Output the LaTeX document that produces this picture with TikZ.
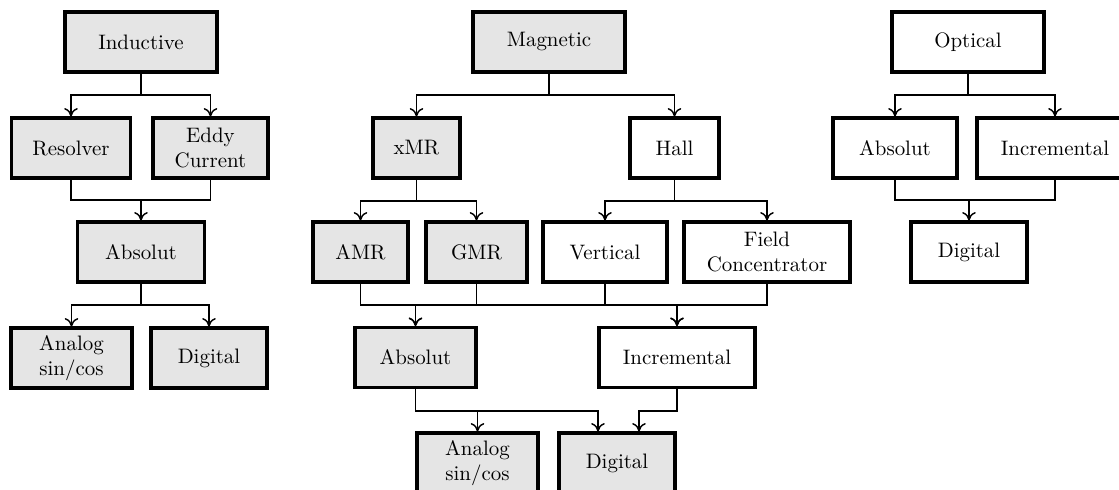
\documentclass[tikz,border=0pt]{standalone}
\usetikzlibrary{arrows.meta,calc}
\newcommand\pxu{0.478pt}
\tikzset{
  box/.style={draw, line width=1.5pt, align=center, inner sep=0pt, minimum height=60*\pxu},
  gbox/.style={box, fill=black!10},
  wbox/.style={box, fill=white},
  bw/.style={minimum width=#1*\pxu},
  conn/.style={line width=0.7pt},
  arr/.style={conn, -{To[length=4pt,width=6.5pt]}},
}
\begin{document}
\begin{tikzpicture}[x=0.478pt,y=-0.478pt]
\useasboundingbox (0,0) rectangle (1119,490);
\clip (0,0) rectangle (1119,490);
% ---------- Inductive ----------
\node[gbox,bw=152] (ind) at (141,42) {Inductive};
\node[gbox,bw=119] (res) at (71,148) {Resolver};
\node[gbox,bw=115] (eddy) at (210.5,148) {Eddy\\Current};
\node[gbox,bw=127] (absL) at (141,252) {Absolut};
\node[gbox,bw=121] (anaL) at (71.5,358) {Analog\\sin/cos};
\node[gbox,bw=116] (digL) at (209,358) {Digital};
% ---------- Magnetic ----------
\node[gbox,bw=152] (mag) at (549,42) {Magnetic};
\node[gbox,bw=87] (xmr) at (416.5,148) {xMR};
\node[wbox,bw=89] (hall) at (674.5,148) {Hall};
\node[gbox,bw=95] (amr) at (360.5,252) {AMR};
\node[gbox,bw=101] (gmr) at (476.5,252) {GMR};
\node[wbox,bw=124] (vert) at (605,252) {Vertical};
\node[wbox,bw=166] (fc) at (767,252) {Field\\Concentrator};
\node[gbox,bw=121] (absM) at (415.5,357.5) {Absolut};
\node[wbox,bw=156] (incM) at (677,357.5) {Incremental};
\node[gbox,bw=121] (anaM) at (477.5,463) {Analog\\sin/cos};
\node[gbox,bw=116] (digM) at (617,463) {Digital};
% ---------- Optical ----------
\node[wbox,bw=152] (opt) at (968,42) {Optical};
\node[wbox,bw=124] (absR) at (895,148) {Absolut};
\node[wbox,bw=156] (incR) at (1055,148) {Incremental};
\node[wbox,bw=116] (digR) at (969,252) {Digital};
% ---------- connectors: Inductive ----------
\draw[arr] (ind.south) -- (ind.south |- 0,95) -| (res.north);
\draw[arr] (ind.south) -- (ind.south |- 0,95) -| (eddy.north);
\draw[arr] (res.south) |- (absL.north |- 0,200) -- (absL.north);
\draw[conn] (eddy.south) |- (absL.north |- 0,200);
\draw[arr] (absL.south) -- (absL.south |- 0,305) -| (anaL.north);
\draw[arr] (absL.south) -- (absL.south |- 0,305) -| (digL.north);
% ---------- connectors: Magnetic ----------
\draw[arr] (mag.south) -- (mag.south |- 0,95) -| (xmr.north);
\draw[arr] (mag.south) -- (mag.south |- 0,95) -| (hall.north);
\draw[arr] (xmr.south) -- (xmr.south |- 0,201) -| (amr.north);
\draw[arr] (xmr.south) -- (xmr.south |- 0,201) -| (gmr.north);
\draw[arr] (hall.south) -- (hall.south |- 0,201) -| (vert.north);
\draw[arr] (hall.south) -- (hall.south |- 0,201) -| (fc.north);
\draw[arr] (amr.south) |- (absM.north |- 0,305) -- (absM.north);
\draw[arr] (vert.south) |- (absM.north |- 0,305) -- (absM.north);
\draw[arr] (gmr.south) |- (incM.north |- 0,305) -- (incM.north);
\draw[arr] (fc.south) |- (incM.north |- 0,305) -- (incM.north);
\draw[arr] (absM.south) -- (absM.south |- 0,411) -| (anaM.north);
\draw[arr] (absM.south) -- (absM.south |- 0,411) -| ($(digM.north)+(-19,0)$);
\draw[arr] (incM.south) -- (incM.south |- 0,411) -| ($(digM.north)+(22,0)$);
% ---------- connectors: Optical ----------
\draw[arr] (opt.south) -- (opt.south |- 0,95) -| (absR.north);
\draw[arr] (opt.south) -- (opt.south |- 0,95) -| (incR.north);
\draw[arr] (absR.south) |- (digR.north |- 0,200) -- (digR.north);
\draw[conn] (incR.south) |- (digR.north |- 0,200);
\end{tikzpicture}
\end{document}
